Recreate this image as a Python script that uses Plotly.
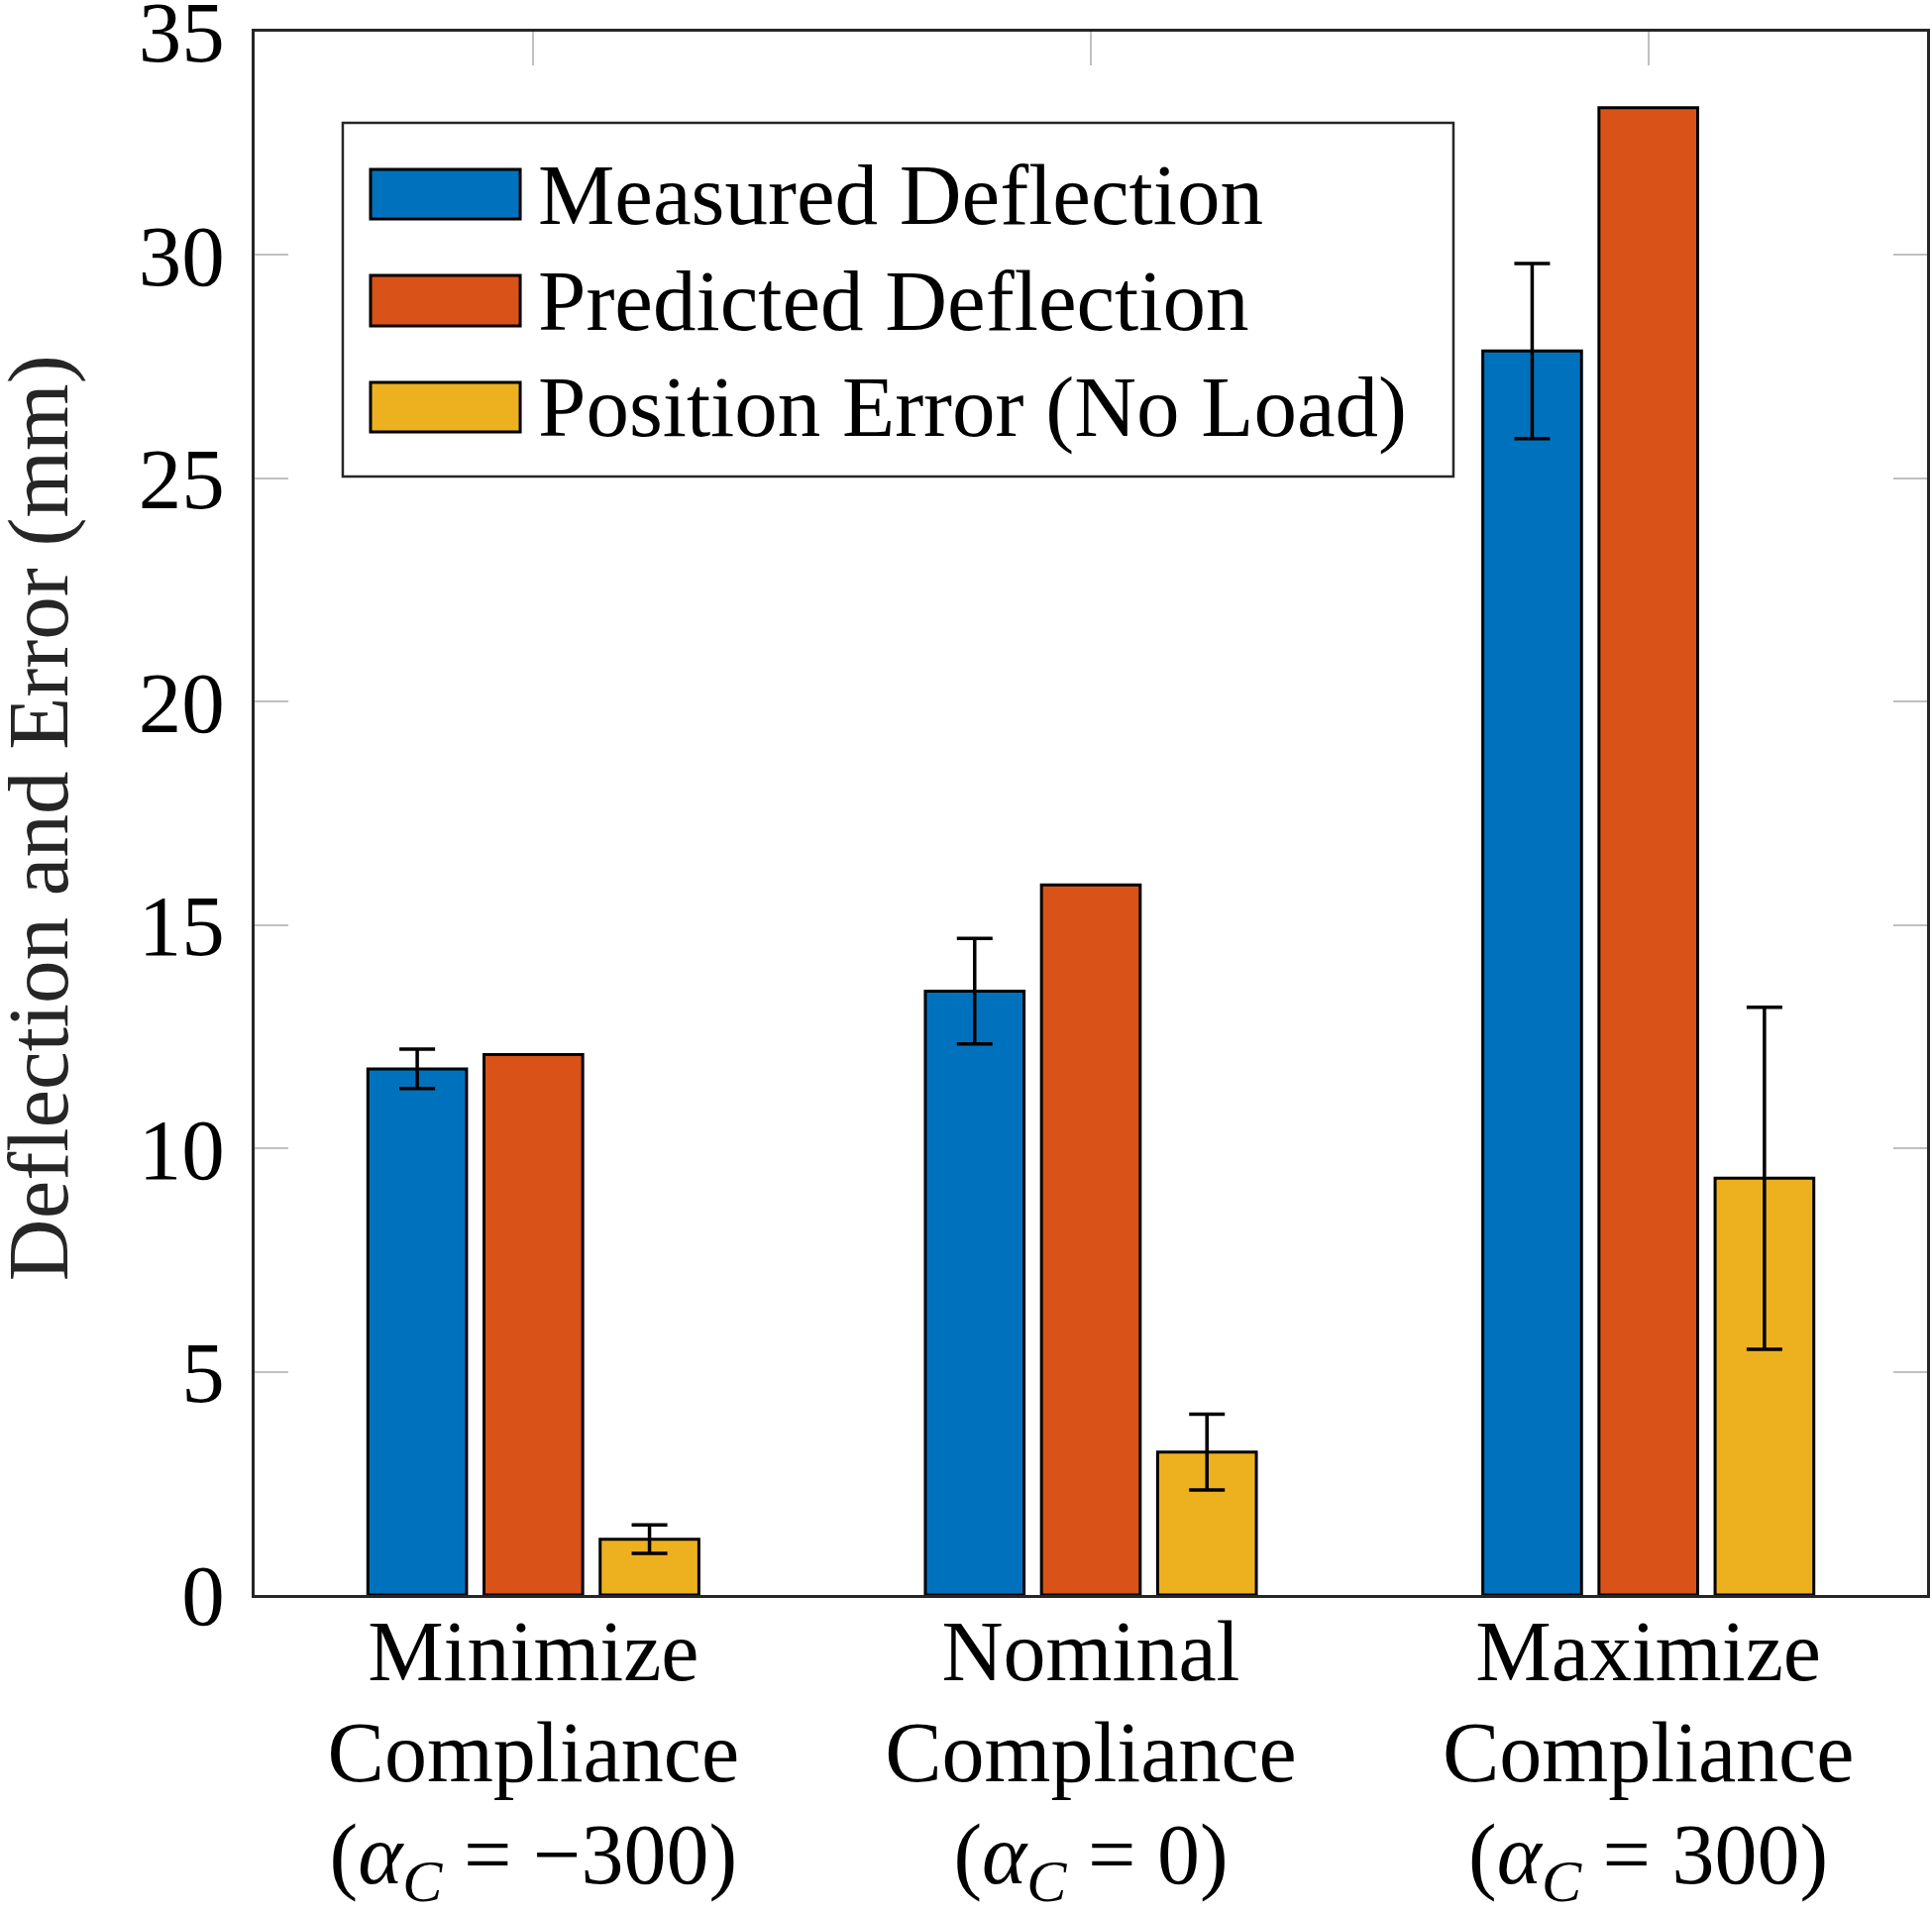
import plotly.graph_objects as go

LBL = '<span style="font-size:86px">{}</span>'
category_lines = [
    ["Minimize", "Compliance", "(<i>α</i><sub><i>C</i></sub> = −300)"],
    ["Nominal", "Compliance", "(<i>α</i><sub><i>C</i></sub> = 0)"],
    ["Maximize", "Compliance", "(<i>α</i><sub><i>C</i></sub> = 300)"],
]
categories = ["<br>".join(LBL.format(s) for s in lines) for lines in category_lines]
series_names = ["Measured Deflection", "Predicted Deflection", "Position Error (No Load)"]
measured = [11.78, 13.52, 27.85]
measured_err = [0.44, 1.18, 1.96]
predicted = [12.1, 15.9, 33.3]
position_err = [1.25, 3.2, 9.33]
position_err_err = [0.32, 0.85, 3.83]
y_ticks = [0, 5, 10, 15, 20, 25, 30, 35]
y_title = "Deflection and Error (mm)"

colors = ["#0072BD", "#D95319", "#EDB120"]
FONT = "Liberation Serif"
FS = 87

fig = go.Figure()
err_style = dict(type="data", color="black", thickness=3.5, width=18, visible=True)
fig.add_trace(go.Bar(x=categories, y=measured, name=series_names[0],
                     marker=dict(color=colors[0], line=dict(color="black", width=3)),
                     error_y=dict(array=measured_err, **err_style)))
fig.add_trace(go.Bar(x=categories, y=predicted, name=series_names[1],
                     marker=dict(color=colors[1], line=dict(color="black", width=3))))
fig.add_trace(go.Bar(x=categories, y=position_err, name=series_names[2],
                     marker=dict(color=colors[2], line=dict(color="black", width=3)),
                     error_y=dict(array=position_err_err, **err_style)))

# manual legend (large rectangular swatches)
shapes = [dict(type="rect", xref="paper", yref="paper", x0=0.0527, x1=0.7168, y0=0.7155, y1=0.9417,
               line=dict(color="#262626", width=2.5), fillcolor="white", layer="above")]
annotations = []
sw = [(0.9119, 0.8802), (0.8441, 0.8118), (0.7757, 0.744)]
for i, (t, b) in enumerate(sw):
    shapes.append(dict(type="rect", xref="paper", yref="paper", x0=0.0693, x1=0.1588, y0=b, y1=t,
                       line=dict(color="black", width=3), fillcolor=colors[i], layer="above"))
    annotations.append(dict(xref="paper", yref="paper", x=0.168, y=(t + b) / 2, text=series_names[i],
                            showarrow=False, xanchor="left", yanchor="middle",
                            font=dict(family=FONT, size=FS, color="black")))
# y-axis title
annotations.append(dict(xref="paper", yref="paper", x=-0.1295, y=0.497, text=y_title, textangle=-90,
                        showarrow=False, xanchor="center", yanchor="middle",
                        font=dict(family=FONT, size=FS, color="#262626")))

fig.update_layout(
    width=1950, height=1931,
    margin=dict(l=257, r=5, t=32, b=321, autoexpand=False),
    paper_bgcolor="white", plot_bgcolor="white",
    barmode="group", bargap=0.375, bargroupgap=0.15,
    showlegend=False,
    font=dict(family=FONT, size=FS, color="black"),
    shapes=shapes, annotations=annotations,
)
fig.update_xaxes(
    showline=True, linecolor="#262626", linewidth=2.5, mirror="ticks",
    ticks="inside", ticklen=34, tickcolor="#c0c0c0", tickwidth=2,
    showgrid=False, layer="below traces", range=[-0.5, 2.5], automargin=False,
    ticklabelstandoff=-12,
    tickfont=dict(family=FONT, size=79, color="black"),
)
fig.update_yaxes(
    range=[0, 35.0001], tickvals=y_ticks, ticktext=[str(v) for v in y_ticks],
    showline=True, linecolor="#262626", linewidth=2.5, mirror="ticks",
    ticks="inside", ticklen=34, tickcolor="#c0c0c0", tickwidth=2,
    showgrid=False, zeroline=False, layer="below traces", automargin=False,
    ticklabelstandoff=10, ticklabeloverflow="allow",
    tickfont=dict(family=FONT, size=FS, color="black"),
)
fig.write_html("out.html", config={"displayModeBar": False},
               post_script="document.body.style.margin='0';")
